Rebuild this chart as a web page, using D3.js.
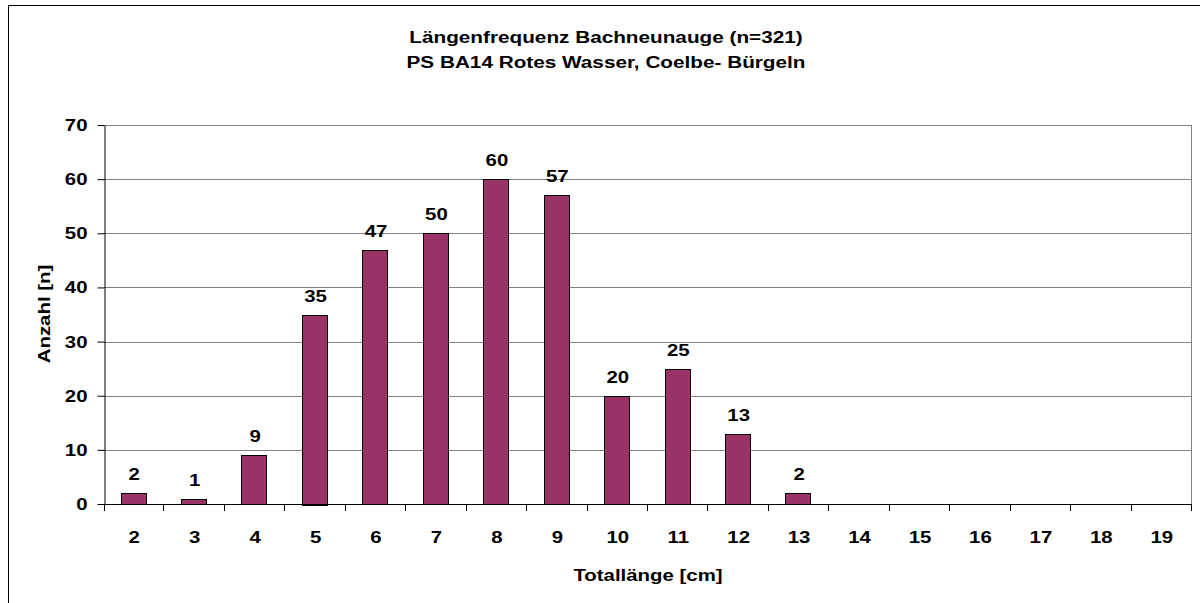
<!DOCTYPE html>
<html>
<head>
<meta charset="utf-8">
<script src="https://cdn.jsdelivr.net/npm/d3@7"></script>
<style>
    body { margin: 0; background: #fff; }
    svg text { font-family: "Liberation Sans", Arial, sans-serif; font-weight: bold; fill: #000; font-size: 17px; }
</style>
</head>
<body>
<script>
// Chart data
var lengths = ["2", "3", "4", "5", "6", "7", "8", "9", "10", "11", "12", "13", "14", "15", "16", "17", "18", "19"];
var counts = [2, 1, 9, 35, 47, 50, 60, 57, 20, 25, 13, 2, 0, 0, 0, 0, 0, 0];
var yTicks = [0, 10, 20, 30, 40, 50, 60, 70];
var titleLines = ["Längenfrequenz Bachneunauge (n=321)", "PS BA14 Rotes Wasser, Coelbe- Bürgeln"];

window.onload = function() {
    drawChart();
};

function stretch(selection, factor, rotation) {
    /*
    The reference font is drawn wider than Arial: move x/y into a transform and widen the glyphs
    */
    selection.each(function() {
        var text = d3.select(this);
        var x = +text.attr("x") || 0;
        var y = +text.attr("y") || 0;
        text.attr("x", 0).attr("y", 0)
            .attr("transform", `translate(${x}, ${y})` + (rotation ? ` rotate(${rotation})` : "") + ` scale(${factor}, 1)`);
    });
}

function drawChart() {
    /*
    Draws the length frequency bar chart
    */
    var svgWidth = 1200;
    var svgHeight = 603;

    var padding = { top: 125, right: 8, bottom: 99, left: 104 };
    var chartWidth = svgWidth - padding.left - padding.right;
    var chartHeight = svgHeight - padding.top - padding.bottom;

    var svg = d3.select("body").append("svg")
        .attr("width", svgWidth)
        .attr("height", svgHeight);

    // Outer frame
    svg.append("rect")
        .attr("x", 8.5)
        .attr("y", 5.5)
        .attr("width", svgWidth)
        .attr("height", svgHeight)
        .attr("fill", "none")
        .attr("stroke", "#000")
        .attr("stroke-width", 1);

    var chart = svg.append("g")
        .attr("transform", `translate(${padding.left}, ${padding.top})`);

    var xScale = d3.scaleBand()
        .range([0, chartWidth])
        .domain(lengths)
        .padding(0);

    var yScale = d3.scaleLinear()
        .range([chartHeight, 0])
        .domain([0, 70]);

    // Gridlines
    chart.append("g")
        .selectAll("line")
        .data(yTicks.filter(function(d) { return d > 0; }))
        .enter()
        .append("line")
        .attr("x1", 0)
        .attr("x2", chartWidth)
        .attr("y1", function(d) { return Math.round(yScale(d)) + 0.5; })
        .attr("y2", function(d) { return Math.round(yScale(d)) + 0.5; })
        .attr("stroke", "#808080");

    // Right border of plot area
    chart.append("line")
        .attr("x1", chartWidth - 0.5)
        .attr("x2", chartWidth - 0.5)
        .attr("y1", Math.round(yScale(70)) + 0.5)
        .attr("y2", chartHeight)
        .attr("stroke", "#808080");

    // Bars
    var barWidth = xScale.bandwidth() * 0.42;
    chart.selectAll(".bar")
        .data(counts)
        .enter()
        .append("rect")
        .attr("class", "bar")
        .filter(function(d) { return d > 0; })
        .attr("x", function(d, i) { return Math.round(xScale(lengths[i]) + (xScale.bandwidth() - barWidth) / 2) - 0.5; })
        .attr("y", function(d) { return Math.round(yScale(d)) + 0.5; })
        .attr("width", Math.round(barWidth))
        .attr("height", function(d) { return Math.round(chartHeight - yScale(d)); })
        .attr("fill", "#993366")
        .attr("stroke", "#000")
        .attr("stroke-width", 1);

    // Value labels
    var values = chart.selectAll(".value")
        .data(counts)
        .enter()
        .append("text")
        .attr("class", "value")
        .filter(function(d) { return d > 0; })
        .attr("x", function(d, i) { return xScale(lengths[i]) + xScale.bandwidth() / 2; })
        .attr("y", function(d) { return yScale(d) - 13; })
        .attr("text-anchor", "middle")
        .text(function(d) { return d; });
    stretch(values, 1.2);

    // x-axis
    var xAxis = chart.append("g")
        .attr("transform", `translate(0, ${chartHeight})`)
        .call(d3.axisBottom(xScale).tickSizeInner(0).tickSizeOuter(0));
    xAxis.select(".domain").attr("stroke", "#000").attr("d", `M0,0.5H${chartWidth}`);
    xAxis.selectAll(".tick line").remove();
    xAxis.selectAll("text")
        .attr("y", 39)
        .attr("dy", null)
        .style("font-size", null)
        .style("font-family", null);
    xAxis.attr("font-size", null).attr("font-family", null);
    stretch(xAxis.selectAll("text"), 1.2);

    // x tick marks at band boundaries
    chart.append("g")
        .selectAll("line")
        .data(d3.range(lengths.length + 1))
        .enter()
        .append("line")
        .attr("x1", function(i) { return i === 0 ? 0.5 : Math.round(i * xScale.step()) - 0.5; })
        .attr("x2", function(i) { return i === 0 ? 0.5 : Math.round(i * xScale.step()) - 0.5; })
        .attr("y1", chartHeight)
        .attr("y2", chartHeight + 7)
        .attr("stroke", "#000");

    // y-axis
    var yAxis = chart.append("g")
        .attr("transform", "translate(0.5, 0)")
        .call(d3.axisLeft(yScale).tickValues(yTicks).tickSizeInner(7).tickSizeOuter(0).tickPadding(10));
    yAxis.attr("font-size", null).attr("font-family", null);
    yAxis.select(".domain").attr("stroke", "#000");
    yAxis.selectAll(".tick line").attr("stroke", "#000");
    stretch(yAxis.selectAll("text"), 1.2);

    // x label
    var xLabel = svg.append("text")
        .attr("x", padding.left + chartWidth / 2)
        .attr("y", 581)
        .attr("text-anchor", "middle")
        .text("Totallänge [cm]");
    stretch(xLabel, 1.2);

    // y label
    var yLabel = svg.append("text")
        .attr("x", 50)
        .attr("y", 314)
        .attr("text-anchor", "middle")
        .text("Anzahl [n]");
    stretch(yLabel, 1.2, 270);

    // Title
    var title = svg.append("g")
        .selectAll("text")
        .data(titleLines)
        .enter()
        .append("text")
        .attr("x", 606)
        .attr("y", function(d, i) { return 43 + i * 25; })
        .attr("text-anchor", "middle")
        .text(function(d) { return d; });
    stretch(title, 1.22);
}
</script>
</body>
</html>
